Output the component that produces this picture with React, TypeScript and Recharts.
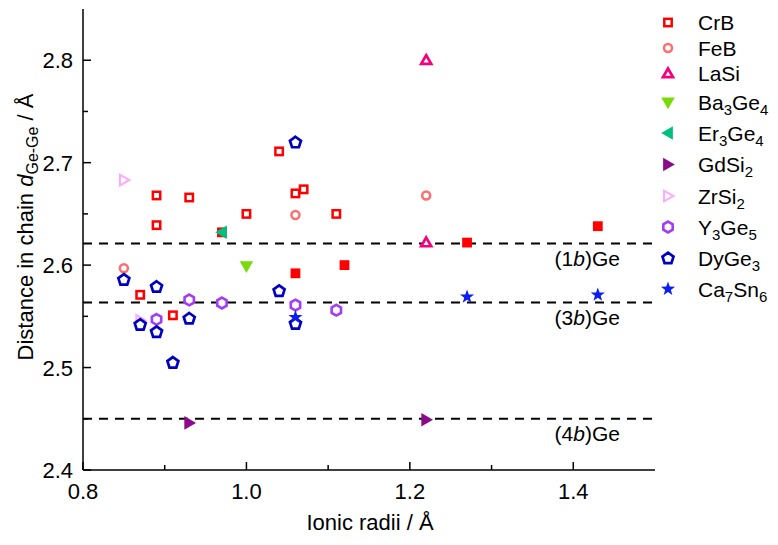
import React from 'react';
import { ScatterChart, Scatter, XAxis, YAxis, ReferenceLine } from 'recharts';

const FONT = '"Liberation Sans", Arial, Helvetica, sans-serif';

// ---- axes ----
const xTicks = [0.8, 0.9, 1.0, 1.1, 1.2, 1.3, 1.4];
const xTickLabels = [0.8, 1.0, 1.2, 1.4];
const yTicks = [2.4, 2.45, 2.5, 2.55, 2.6, 2.65, 2.7, 2.75, 2.8];
const yTickLabels = [2.4, 2.5, 2.6, 2.7, 2.8];
const xDomain: [number, number] = [0.8, 1.5];
const yDomain: [number, number] = [2.4, 2.85];

// ---- reference levels ----
const refLevels = [2.621, 2.5635, 2.45];
const refNames = ['1', '3', '4'];

// ---- data: [ionic radius, d(Ge-Ge)] ----
const CrB: [number, number][] = [
  [0.89, 2.668], [0.93, 2.666], [1.0, 2.65], [1.04, 2.711], [1.06, 2.67],
  [1.07, 2.674], [1.11, 2.65], [0.89, 2.639], [0.87, 2.571], [0.91, 2.551],
];
const CrBFilled: [number, number][] = [
  [0.97, 2.632], [1.06, 2.592], [1.12, 2.6], [1.27, 2.622], [1.43, 2.638],
];
const FeB: [number, number][] = [[0.85, 2.597], [1.06, 2.649], [1.22, 2.668]];
const LaSi: [number, number][] = [[1.22, 2.8], [1.22, 2.622]];
const Ba3Ge4: [number, number][] = [[1.0, 2.599]];
const Er3Ge4: [number, number][] = [[0.97, 2.632]];
const GdSi2: [number, number][] = [[0.93, 2.446], [1.22, 2.449]];
const ZrSi2: [number, number][] = [[0.85, 2.683], [0.87, 2.546]];
const Y3Ge5: [number, number][] = [
  [0.89, 2.547], [0.93, 2.566], [0.97, 2.563], [1.06, 2.561], [1.11, 2.556],
];
const DyGe3: [number, number][] = [
  [0.85, 2.586], [0.87, 2.542], [0.89, 2.579], [0.89, 2.535], [0.91, 2.505],
  [0.93, 2.548], [1.04, 2.575], [1.06, 2.72], [1.06, 2.543],
];
const Ca7Sn6: [number, number][] = [[1.06, 2.549], [1.27, 2.569], [1.43, 2.571]];

type Kind =
  | 'square' | 'squareFilled' | 'circle' | 'triUp' | 'triDown' | 'triLeft'
  | 'triRight' | 'triRightOpen' | 'hexagon' | 'pentagon' | 'star';

interface SeriesDef { name: string; data: [number, number][]; color: string; kind: Kind; legend: boolean }

const series: SeriesDef[] = [
  { name: 'CrB', data: CrBFilled, color: '#FF0000', kind: 'squareFilled', legend: false },
  { name: 'CrB', data: CrB, color: '#FF0000', kind: 'square', legend: true },
  { name: 'FeB', data: FeB, color: '#FF6E6E', kind: 'circle', legend: true },
  { name: 'LaSi', data: LaSi, color: '#F5007F', kind: 'triUp', legend: true },
  { name: 'Ba3Ge4', data: Ba3Ge4, color: '#7ADB0A', kind: 'triDown', legend: true },
  { name: 'Er3Ge4', data: Er3Ge4, color: '#00C080', kind: 'triLeft', legend: true },
  { name: 'GdSi2', data: GdSi2, color: '#8A0A8A', kind: 'triRight', legend: true },
  { name: 'ZrSi2', data: ZrSi2, color: '#FFA8FF', kind: 'triRightOpen', legend: true },
  { name: 'Y3Ge5', data: Y3Ge5, color: '#A33CF5', kind: 'hexagon', legend: true },
  { name: 'DyGe3', data: DyGe3, color: '#0000C0', kind: 'pentagon', legend: true },
  { name: 'Ca7Sn6', data: Ca7Sn6, color: '#0A1EF0', kind: 'star', legend: true },
];

const toPoints = (arr: [number, number][]) => arr.map(([x, y]) => ({ x, y }));

function poly(cx: number, cy: number, r: number, n: number, startDeg: number) {
  const pts: string[] = [];
  for (let i = 0; i < n; i++) {
    const a = ((startDeg + (360 / n) * i) * Math.PI) / 180;
    pts.push(`${cx + r * Math.cos(a)},${cy + r * Math.sin(a)}`);
  }
  return pts.join(' ');
}

function starPts(cx: number, cy: number, ro: number, ri: number) {
  const pts: string[] = [];
  for (let i = 0; i < 10; i++) {
    const r = i % 2 === 0 ? ro : ri;
    const a = ((-90 + 36 * i) * Math.PI) / 180;
    pts.push(`${cx + r * Math.cos(a)},${cy + r * Math.sin(a)}`);
  }
  return pts.join(' ');
}

function marker(kind: Kind, cx: number, cy: number, color: string) {
  const sw = 2.5;
  switch (kind) {
    case 'square':
      return <rect x={cx - 3.7} y={cy - 3.7} width={7.4} height={7.4} fill="#fff" stroke={color} strokeWidth={sw} />;
    case 'squareFilled':
      return <rect x={cx - 4.9} y={cy - 4.9} width={9.8} height={9.8} fill={color} />;
    case 'circle':
      return <circle cx={cx} cy={cy} r={4} fill="#fff" stroke={color} strokeWidth={sw} />;
    case 'triUp':
      return <polygon points={poly(cx, cy + 0.8, 5.8, 3, -90)} fill="#fff" stroke={color} strokeWidth={2.7} />;
    case 'triDown':
      return <polygon points={poly(cx, cy - 1, 7.8, 3, 90)} fill={color} />;
    case 'triLeft':
      return <polygon points={poly(cx + 1, cy, 7.8, 3, 180)} fill={color} />;
    case 'triRight':
      return <polygon points={poly(cx - 1, cy, 7.8, 3, 0)} fill={color} />;
    case 'triRightOpen':
      return <polygon points={poly(cx - 0.8, cy, 6.2, 3, 0)} fill="none" stroke={color} strokeWidth={2} />;
    case 'hexagon':
      return <polygon points={poly(cx, cy, 5.4, 6, -90)} fill="#fff" stroke={color} strokeWidth={2.6} />;
    case 'pentagon':
      return <polygon points={poly(cx, cy + 0.4, 5.8, 5, -90)} fill="#fff" stroke={color} strokeWidth={2.7} />;
    case 'star':
      return <polygon points={starPts(cx, cy, 7.4, 3)} fill={color} />;
  }
  return null;
}

const near = (a: number, b: number) => Math.abs(a - b) < 1e-6;
const isMajorX = (v: number) => xTickLabels.some((t) => near(t, v));
const isMajorY = (v: number) => yTickLabels.some((t) => near(t, v));
const MAJOR = 8;
const MINOR = 5;
const TICK_STROKE = 1.5;
const TICK_FONT = 22;

const BottomTick = (props: any) => {
  const { x, y, payload } = props;
  const v = payload.value as number;
  const major = isMajorX(v);
  return (
    <g>
      <line x1={x} x2={x} y1={y} y2={y - (major ? MAJOR : MINOR)} stroke="#000" strokeWidth={TICK_STROKE} />
      {major && (
        <text x={x} y={y + 29} textAnchor="middle" fontSize={TICK_FONT} fontFamily={FONT} fill="#000">
          {v.toFixed(1)}
        </text>
      )}
    </g>
  );
};

const TopTick = (props: any) => {
  const { x, y, payload } = props;
  const major = isMajorX(payload.value);
  return <line x1={x} x2={x} y1={y} y2={y + (major ? MAJOR : MINOR)} stroke="#000" strokeWidth={TICK_STROKE} />;
};

const LeftTick = (props: any) => {
  const { x, y, payload } = props;
  const v = payload.value as number;
  const major = isMajorY(v);
  return (
    <g>
      <line x1={x} x2={x + (major ? MAJOR : MINOR)} y1={y} y2={y} stroke="#000" strokeWidth={TICK_STROKE} />
      {major && (
        <text x={x - 10} y={y + 8} textAnchor="end" fontSize={TICK_FONT} fontFamily={FONT} fill="#000">
          {v.toFixed(1)}
        </text>
      )}
    </g>
  );
};

const RightTick = (props: any) => {
  const { x, y, payload } = props;
  const major = isMajorY(payload.value);
  return <line x1={x} x2={x - (major ? MAJOR : MINOR)} y1={y} y2={y} stroke="#000" strokeWidth={TICK_STROKE} />;
};

const RefLabel = (props: any) => {
  const vb = props.viewBox || { x: 83, y: 0, width: 572 };
  const x = vb.x + (vb.width || 0) - 35;
  const y = vb.y + 22;
  return (
    <text x={x} y={y} textAnchor="end" fontSize={21} fontFamily={FONT} fill="#000">
      ({props.n}
      <tspan fontStyle="italic">b</tspan>
      )Ge
    </text>
  );
};

function formula(name: string) {
  const parts = name.match(/[A-Za-z]+|\d+/g) || [];
  const out: React.ReactNode[] = [];
  let sub = false;
  parts.forEach((p, i) => {
    const isNum = /\d/.test(p);
    if (isNum) {
      out.push(<tspan key={i} dy={5} fontSize={15}>{p}</tspan>);
      sub = true;
    } else {
      out.push(<tspan key={i} dy={sub ? -5 : 0}>{p}</tspan>);
      sub = false;
    }
  });
  return out;
}

const legendRows = [22.5, 48, 73.5, 102.5, 133, 164.5, 196, 227, 258, 289];

const axisLine = { stroke: '#000', strokeWidth: 1.5 };

export default function App() {
  const legendSeries = series.filter((s) => s.legend);
  return (
    <div style={{ position: 'absolute', left: 0, top: 0, width: 778, height: 545, background: '#fff' }}>
      <ScatterChart width={778} height={545} margin={{ top: 9, right: 123, bottom: 0, left: 0 }}>
        <XAxis
          type="number" dataKey="x" domain={xDomain} ticks={xTicks} allowDataOverflow
          interval={0} tickSize={0} tickMargin={0} tickLine={false} axisLine={axisLine}
          height={75} tick={BottomTick}
        />
        <XAxis
          xAxisId="top" orientation="top" type="number" dataKey="x" domain={xDomain} ticks={xTicks}
          allowDataOverflow interval={0} tickSize={0} tickMargin={0} tickLine={false}
          axisLine={axisLine} height={0} tick={TopTick}
        />
        <YAxis
          type="number" dataKey="y" domain={yDomain} ticks={yTicks} allowDataOverflow
          interval={0} tickSize={0} tickMargin={0} tickLine={false} axisLine={axisLine}
          width={83} tick={LeftTick}
        />
        <YAxis
          yAxisId="right" orientation="right" type="number" dataKey="y" domain={yDomain}
          ticks={yTicks} allowDataOverflow interval={0} tickSize={0} tickMargin={0}
          tickLine={false} axisLine={axisLine} width={0} tick={RightTick}
        />
        {refLevels.map((lv, i) => (
          <ReferenceLine
            key={`ref${i}`} y={lv} stroke="#000" strokeWidth={2} strokeDasharray="9 7"
            label={<RefLabel n={refNames[i]} />}
          />
        ))}
        {series.map((s, i) => (
          <Scatter
            key={`s${i}`} name={s.name} data={toPoints(s.data)} isAnimationActive={false}
            shape={(p: any) => marker(s.kind, p.cx, p.cy, s.color)}
          />
        ))}
      </ScatterChart>
      <svg
        width={778} height={545}
        style={{ position: 'absolute', left: 0, top: 0, pointerEvents: 'none' }}
      >
        {legendSeries.map((s, i) => (
          <g key={`lg${i}`}>
            {marker(s.kind, 668, legendRows[i], s.color)}
            <text x={698} y={legendRows[i] + 7.5} fontSize={21} fontFamily={FONT} fill="#000">
              {formula(s.name)}
            </text>
          </g>
        ))}
        <text
          transform="translate(33,227) rotate(-90)" textAnchor="middle"
          fontSize={22} fontFamily={FONT} fill="#000"
        >
          Distance in chain <tspan fontStyle="italic">d</tspan>
          <tspan dy={5} fontSize={16}>Ge-Ge</tspan>
          <tspan dy={-5}> / Å</tspan>
        </text>
        <text x={370} y={530} textAnchor="middle" fontSize={22} fontFamily={FONT} fill="#000">
          Ionic radii / Å
        </text>
      </svg>
    </div>
  );
}
